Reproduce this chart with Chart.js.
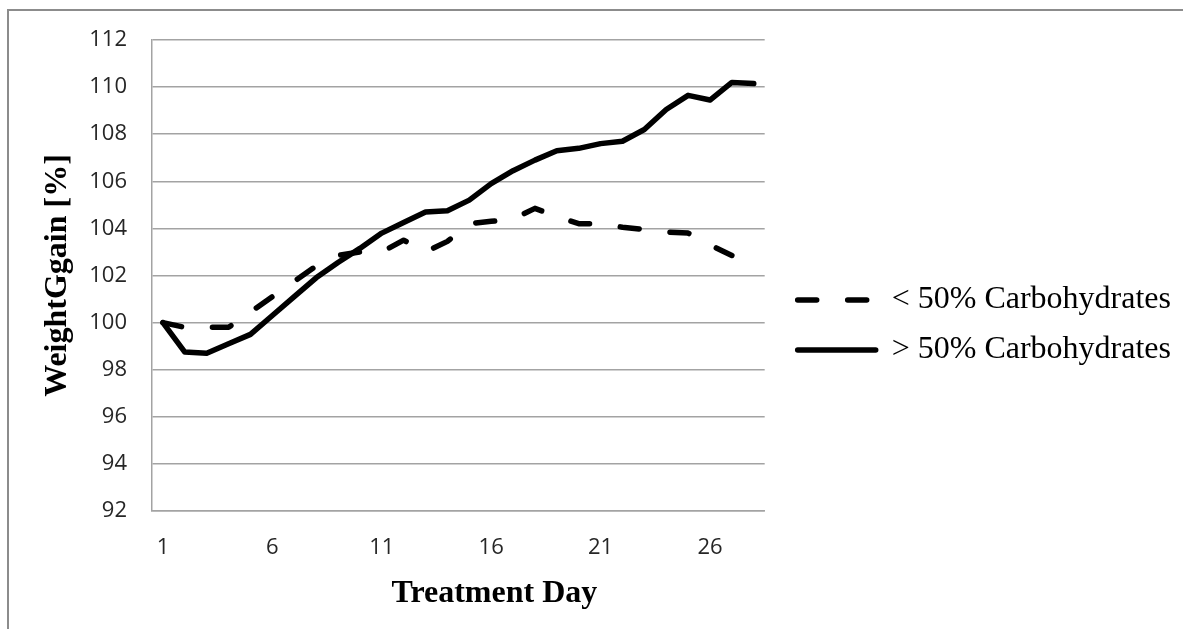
<!DOCTYPE html>
<html>
<head>
<meta charset="utf-8">
<script src="https://cdn.jsdelivr.net/npm/chart.js@4/dist/chart.umd.min.js"></script>
<style>
  html, body { margin: 0; padding: 0; background: #fff; overflow: hidden; }
  #frame { position: absolute; left: 7px; top: 9px; width: 1300px; height: 800px; border: 2px solid #8c8c8c; }
  #wrap { position: absolute; left: 0; top: 0; width: 1183px; height: 629px; }
</style>
</head>
<body>
<div id="frame"></div>
<div id="wrap"><canvas id="c"></canvas></div>
<script>
const days = ['1','2','3','4','5','6','7','8','9','10','11','12','13','14','15','16','17','18','19','20','21','22','23','24','25','26','27','28'];
const lowCarb = [100.0, 99.8, 99.8, 99.8, 100.45, 101.1, 101.75, 102.4, 102.85, 103.0, 103.0, 103.5, 103.0, 103.45, 104.2, 104.3, 104.4, 104.85, 104.5, 104.2, 104.2, 104.05, 103.95, 103.85, 103.8, 103.3, 102.85, null];
const highCarb = [100.0, 98.75, 98.7, 99.1, 99.5, 100.3, 101.1, 101.9, 102.55, 103.15, 103.8, 104.25, 104.7, 104.75, 105.2, 105.9, 106.45, 106.9, 107.3, 107.4, 107.6, 107.7, 108.2, 109.05, 109.65, 109.45, 110.2, 110.15];
const seriesNames = ['< 50% Carbohydrates', '> 50% Carbohydrates'];
const yMin = 92, yMax = 112, yStep = 2;

const grey = '#a3a3a3';
const serif = '"Liberation Serif", "Times New Roman", serif';
new Chart(document.getElementById('c'), {
  type: 'line',
  data: {
    labels: days,
    datasets: [
      { label: seriesNames[0], data: lowCarb, borderColor: '#000', backgroundColor: '#000', borderWidth: 5.5,
        borderDash: [19, 31], borderCapStyle: 'round', borderJoinStyle: 'round', pointRadius: 0, tension: 0, spanGaps: false },
      { label: seriesNames[1], data: highCarb, borderColor: '#000', backgroundColor: '#000', borderWidth: 5.5,
        borderCapStyle: 'round', borderJoinStyle: 'round', pointRadius: 0, tension: 0 }
    ]
  },
  options: {
    responsive: true,
    maintainAspectRatio: false,
    animation: false,
    devicePixelRatio: 1,
    layout: { padding: { left: 20, top: 40, bottom: 19, right: 2 } },
    plugins: {
      tooltip: { enabled: false },
      legend: {
        position: 'right',
        maxWidth: 1000,
        labels: {
          usePointStyle: true,
          pointStyle: 'line',
          pointStyleWidth: 78,
          padding: 18,
          color: '#000',
          font: { family: serif, size: 32 },
          generateLabels: function(chart) {
            const items = Chart.defaults.plugins.legend.labels.generateLabels(chart);
            items.forEach(it => {
              const ds = chart.data.datasets[it.datasetIndex];
              it.lineDash = ds.borderDash || [];
              it.lineCap = 'round';
              it.lineWidth = ds.borderWidth;
              it.strokeStyle = ds.borderColor;
              it.pointStyle = 'line';
            });
            return items;
          }
        }
      }
    },
    scales: {
      x: {
        type: 'category',
        offset: true,
        grid: { display: false, drawTicks: false },
        border: { display: true, color: grey, width: 1.5 },
        ticks: {
          autoSkip: false, maxRotation: 0, padding: 24, color: '#262626',
          font: { family: '"Open Sans", sans-serif', size: 22 },
          callback: function(v, i) { return i % 5 === 0 ? this.getLabelForValue(v) : ''; }
        },
        title: { display: true, text: 'Treatment Day', color: '#000', padding: { top: 0, bottom: 0 },
          font: { family: serif, size: 32, weight: 'bold', lineHeight: 1 } },
        afterFit: s => { s.height = 99; },
        afterUpdate: s => {
          if (!s._titleShifted) {
            const orig = s.drawTitle.bind(s);
            s.drawTitle = function() {
              this.ctx.save();
              this.ctx.translate(36, 0);
              orig();
              this.ctx.restore();
            };
            s._titleShifted = true;
          }
        }
      },
      y: {
        min: yMin, max: yMax,
        grid: { color: grey, lineWidth: 1.5, drawTicks: false },
        border: { display: true, color: grey, width: 1.5 },
        ticks: { stepSize: yStep, padding: 25, color: '#262626',
          font: { family: '"Open Sans", sans-serif', size: 22 } },
        title: { display: true, text: 'WeightGgain [%]', color: '#000', padding: { top: 22, bottom: 0 },
          font: { family: serif, size: 32, weight: 'bold', lineHeight: 1 } },
        afterFit: s => { s.width = 132; }
      },
      y2: {
        position: 'right', display: true, min: yMin, max: yMax,
        grid: { display: false, drawTicks: false },
        border: { display: false },
        ticks: { display: false },
        afterFit: s => { s.width = 15; }
      }
    }
  }
});
</script>
</body>
</html>
